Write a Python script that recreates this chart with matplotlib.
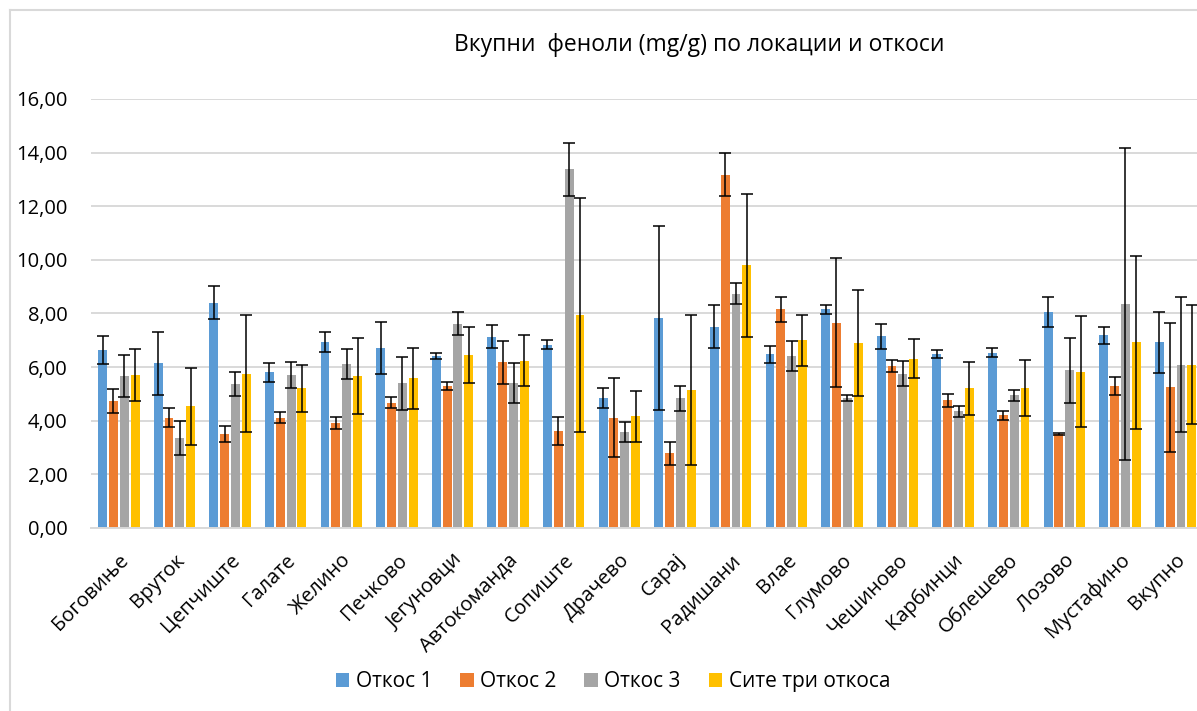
import matplotlib
matplotlib.use("Agg")
import matplotlib.pyplot as plt
import numpy as np
from matplotlib.lines import Line2D
from matplotlib.transforms import ScaledTranslation

plt.rcParams['font.family'] = ['Open Sans', 'DejaVu Sans']

locations = ["Боговиње", "Вруток", "Цепчиште", "Галате", "Желино", "Печково",
             "Јегуновци", "Автокоманда", "Сопиште", "Драчево", "Сарај", "Радишани",
             "Влае", "Глумово", "Чешиново", "Карбинци", "Облешево", "Лозово",
             "Мустафино", "Вкупно"]

otkos1 = [6.63, 6.14, 8.40, 5.81, 6.93, 6.72, 6.43, 7.13, 6.84, 4.86,
          7.84, 7.50, 6.48, 8.16, 7.15, 6.48, 6.53, 8.05, 7.18, 6.92]
otkos1_err = [0.53, 1.18, 0.62, 0.36, 0.37, 0.98, 0.11, 0.43, 0.18, 0.37,
              3.43, 0.80, 0.32, 0.17, 0.47, 0.15, 0.17, 0.57, 0.31, 1.15]

otkos2 = [4.74, 4.12, 3.50, 4.12, 3.91, 4.68, 5.29, 6.18, 3.61, 4.12,
          2.79, 13.18, 8.15, 7.66, 6.03, 4.76, 4.20, 3.52, 5.29, 5.25]
otkos2_err = [0.45, 0.34, 0.30, 0.22, 0.22, 0.21, 0.16, 0.80, 0.52, 1.46,
              0.43, 0.80, 0.46, 2.42, 0.23, 0.24, 0.17, 0.04, 0.34, 2.41]

otkos3 = [5.67, 3.36, 5.37, 5.70, 6.12, 5.39, 7.62, 5.41, 13.38, 3.58,
          4.83, 8.74, 6.41, 4.84, 5.76, 4.35, 4.95, 5.88, 8.35, 6.09]
otkos3_err = [0.78, 0.62, 0.44, 0.49, 0.56, 0.98, 0.44, 0.75, 0.99, 0.37,
              0.46, 0.39, 0.57, 0.11, 0.45, 0.21, 0.20, 1.20, 5.83, 2.52]

site_tri = [5.70, 4.54, 5.76, 5.21, 5.66, 5.58, 6.44, 6.23, 7.94, 4.17,
            5.16, 9.80, 7.00, 6.90, 6.31, 5.21, 5.21, 5.83, 6.93, 6.09]
site_tri_err = [0.98, 1.43, 2.18, 0.88, 1.41, 1.13, 1.04, 0.95, 4.35, 0.95,
                2.80, 2.66, 0.95, 1.96, 0.73, 0.98, 1.05, 2.06, 3.22, 2.21]

series_names = ["Откос 1", "Откос 2", "Откос 3", "Сите три откоса"]
colors = ["#5B9BD5", "#ED7D31", "#A5A5A5", "#FFC000"]
yticks = [0, 2, 4, 6, 8, 10, 12, 14, 16]

fig = plt.figure(figsize=(11.97, 7.11), dpi=100)
ax = fig.add_axes([0.076, 0.2574, 0.927, 0.6034])

x = np.arange(len(locations))
step = 0.195
width = 0.16
values = [otkos1, otkos2, otkos3, site_tri]
errors = [otkos1_err, otkos2_err, otkos3_err, site_tri_err]
for i, (vals, errs, col, name) in enumerate(zip(values, errors, colors, series_names)):
    pos = x + (i - 1.5) * step
    ax.bar(pos, vals, width=width, color=col, label=name, zorder=2)
    ax.errorbar(pos, vals, yerr=errs, fmt='none', ecolor='black',
                elinewidth=1.1, capsize=4.3, capthick=1.1, zorder=3)

ax.set_xlim(-0.5, 19.45)
ax.set_ylim(0, 16)
ax.set_yticks(yticks)
ax.set_yticklabels([f"{v:.2f}".replace('.', ',') for v in yticks], fontsize=14.5)
ax.yaxis.grid(True, color='#d9d9d9', linewidth=1.4, zorder=0)
ax.set_axisbelow(True)
ax.tick_params(axis='both', length=0)
ax.tick_params(axis='y', pad=17)
for s in ['top', 'right', 'left']:
    ax.spines[s].set_visible(False)
ax.spines['bottom'].set_color('#d9d9d9')
ax.spines['bottom'].set_linewidth(1.4)

ax.set_xticks(x)
ax.set_xticklabels(locations, rotation=45, ha='right', va='center',
                   rotation_mode='anchor', fontsize=14.5)
ax.tick_params(axis='x', pad=21)
offset = ScaledTranslation(7 / 100, 0, fig.dpi_scale_trans)
for lbl in ax.get_xticklabels():
    lbl.set_transform(lbl.get_transform() + offset)

fig.text(0.584, 0.937, "Вкупни  феноли (mg/g) по локации и откоси",
         ha='center', va='center', fontsize=16.5)

leg = fig.legend(loc='center', bbox_to_anchor=(0.512, 0.041), ncol=4,
                 frameon=False, fontsize=15, handlelength=0.65, handleheight=0.65,
                 handletextpad=0.3, columnspacing=1.35)

# chart-area frame
frame_col = '#d9d9d9'
fig.add_artist(Line2D([10 / 1197, 10 / 1197], [0, 1 - 10 / 711],
                      transform=fig.transFigure, color=frame_col, linewidth=1.5))
fig.add_artist(Line2D([10 / 1197, 1], [1 - 10 / 711, 1 - 10 / 711],
                      transform=fig.transFigure, color=frame_col, linewidth=1.5))

fig.savefig("out.png", dpi=100)
